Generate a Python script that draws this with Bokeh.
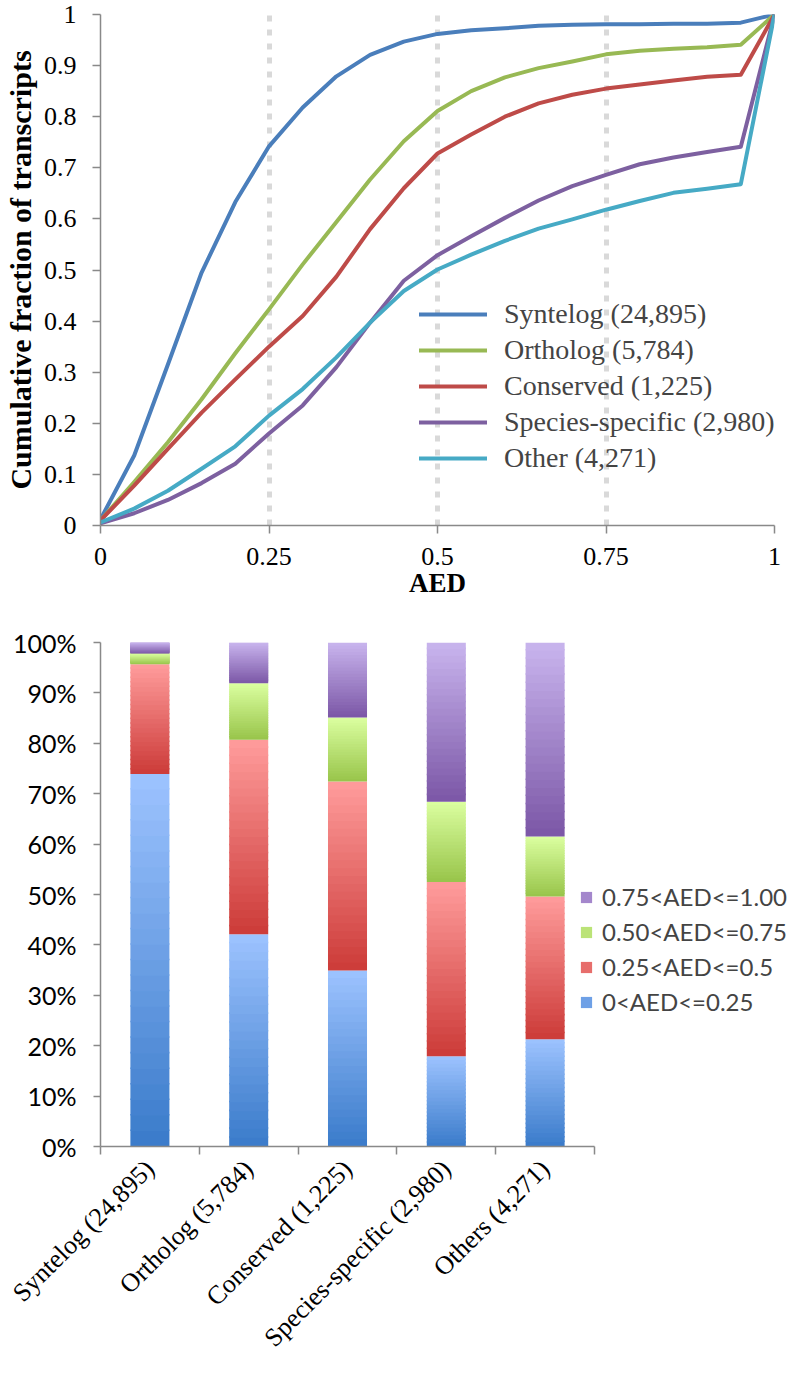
import math
from bokeh.plotting import figure
from bokeh.models import (FixedTicker, CustomJSTickFormatter, PrintfTickFormatter,
                          Legend, LegendItem, ColumnDataSource)
from bokeh.embed import file_html
from bokeh.resources import INLINE

# ---------------- data: cumulative curves ----------------
aed = [0, 0.05, 0.1, 0.15, 0.2, 0.25, 0.3, 0.35, 0.4, 0.45, 0.5,
       0.55, 0.6, 0.65, 0.7, 0.75, 0.8, 0.85, 0.9, 0.95, 1.0]
syntelog = [0.012, 0.137, 0.315, 0.495, 0.633, 0.742, 0.818, 0.879, 0.921, 0.947, 0.962,
            0.969, 0.973, 0.978, 0.980, 0.981, 0.981, 0.982, 0.982, 0.984, 1.0]
ortholog = [0.010, 0.085, 0.163, 0.247, 0.337, 0.423, 0.511, 0.594, 0.677, 0.752, 0.811,
            0.850, 0.877, 0.895, 0.908, 0.922, 0.929, 0.933, 0.936, 0.941, 1.0]
conserved = [0.010, 0.078, 0.150, 0.221, 0.286, 0.350, 0.410, 0.487, 0.580, 0.660, 0.728,
             0.765, 0.800, 0.826, 0.843, 0.855, 0.863, 0.871, 0.878, 0.882, 1.0]
species_specific = [0.004, 0.024, 0.050, 0.083, 0.121, 0.180, 0.235, 0.310, 0.397, 0.479, 0.529,
                    0.566, 0.602, 0.636, 0.664, 0.686, 0.707, 0.720, 0.731, 0.741, 1.0]
other = [0.006, 0.033, 0.068, 0.111, 0.155, 0.215, 0.267, 0.329, 0.397, 0.459, 0.501,
         0.530, 0.557, 0.581, 0.599, 0.618, 0.635, 0.651, 0.659, 0.668, 1.0]
series_names = ["Syntelog (24,895)", "Ortholog (5,784)", "Conserved (1,225)",
                "Species-specific (2,980)", "Other (4,271)"]
series_values = [syntelog, ortholog, conserved, species_specific, other]
series_colors = ["#4a7ebb", "#98b954", "#be4b48", "#7d60a0", "#46aac5"]
x_ticks = [0, 0.25, 0.5, 0.75, 1.0]
y_ticks = [0, 0.1, 0.2, 0.3, 0.4, 0.5, 0.6, 0.7, 0.8, 0.9, 1.0]

# ---------------- data: stacked percentages ----------------
categories = ["Syntelog (24,895)", "Ortholog (5,784)", "Conserved (1,225)",
              "Species-specific (2,980)", "Others (4,271)"]
bin_labels = ["0<AED<=0.25", "0.25<AED<=0.5", "0.50<AED<=0.75", "0.75<AED<=1.00"]
pct_000_025 = [73.9, 42.1, 34.9, 17.9, 21.3]
pct_025_050 = [21.8, 38.6, 37.5, 34.6, 28.3]
pct_050_075 = [2.1, 11.2, 12.7, 15.9, 11.9]
pct_075_100 = [2.2, 8.1, 14.9, 31.6, 38.5]
bin_values = [pct_000_025, pct_025_050, pct_050_075, pct_075_100]
pct_ticks = [0, 10, 20, 30, 40, 50, 60, 70, 80, 90, 100]
# gradient (bottom dark, top light) for each bin
bin_gradients = [("#3a7bca", "#9dc3ff"), ("#cc3b38", "#ff9c9c"),
                 ("#98c44a", "#dbffa0"), ("#7b56a6", "#c9b5ee")]

AXIS_COLOR = "#898989"
SERIF = "Liberation Serif"
SANS = "Lato"

# ================= top chart =================
p1 = figure(width=793, height=608, x_range=(0, 1), y_range=(0, 1),
            output_backend="svg", toolbar_location=None,
            min_border_left=97, min_border_right=19, min_border_top=14, min_border_bottom=83)
p1.outline_line_color = None
p1.background_fill_color = "white"
p1.ygrid.grid_line_color = None
p1.xgrid.ticker = FixedTicker(ticks=x_ticks[1:])
p1.xgrid.grid_line_color = "#d9d9d9"
p1.xgrid.grid_line_width = 5
p1.xgrid.grid_line_dash = "6 8"

fmt = CustomJSTickFormatter(code="return String(Math.round(tick*100)/100);")
p1.xaxis.ticker = FixedTicker(ticks=x_ticks)
p1.yaxis.ticker = FixedTicker(ticks=y_ticks)
p1.xaxis.formatter = fmt
p1.yaxis.formatter = fmt
p1.xaxis.axis_label = "AED"
p1.yaxis.axis_label = "Cumulative fraction of transcripts"
for ax in (p1.xaxis[0], p1.yaxis[0]):
    ax.axis_line_color = AXIS_COLOR
    ax.axis_line_width = 1.5
    ax.major_tick_line_color = AXIS_COLOR
    ax.major_tick_line_width = 1.5
    ax.major_tick_out = 8
    ax.major_tick_in = 0
    ax.minor_tick_line_color = None
    ax.major_label_text_font = SERIF
    ax.major_label_text_font_size = "26px"
    ax.major_label_text_color = "black"
    ax.axis_label_text_font = SERIF
    ax.axis_label_text_font_style = "bold"
    ax.axis_label_text_color = "black"
p1.xaxis.axis_label_text_font_size = "27px"
p1.yaxis.axis_label_text_font_size = "30px"
p1.xaxis.major_label_standoff = 14
p1.xaxis.axis_label_standoff = 0
p1.yaxis.major_label_standoff = 16
p1.yaxis.axis_label_standoff = 4

items = []
for name, vals, col in zip(series_names, series_values, series_colors):
    r = p1.line(aed, vals, line_width=4, line_color=col, line_join="round", line_cap="round")
    items.append(LegendItem(label=name, renderers=[r]))
leg1 = Legend(items=items, location=(319, 49), label_text_font=SERIF,
              label_text_font_size="28px", glyph_width=68, glyph_height=20,
              label_height=36, spacing=0, padding=0, margin=0, label_standoff=17,
              border_line_alpha=0, background_fill_alpha=0)
p1.add_layout(leg1)

# ================= bottom chart =================
# frame spans the full width so the legend (inside the frame) is not clipped;
# the axis itself is bounded to the five categories.
p2 = figure(width=793, height=765, x_range=(0, 7.014), y_range=(0, 100),
            output_backend="svg", toolbar_location=None,
            min_border_left=100, min_border_right=0, min_border_top=34, min_border_bottom=227)
p2.outline_line_color = None
p2.xgrid.grid_line_color = None
p2.ygrid.grid_line_color = None


def mix(c1, c2, t):
    a = [int(c1[i:i + 2], 16) for i in (1, 3, 5)]
    b = [int(c2[i:i + 2], 16) for i in (1, 3, 5)]
    return "#%02x%02x%02x" % tuple(round(a[k] + (b[k] - a[k]) * t) for k in range(3))


NSLICE = 24
xs, bots, tops, cols = [], [], [], []
legend_index = {}
for ci in range(len(categories)):
    base = 0.0
    for bi, vals in enumerate(bin_values):
        v = vals[ci]
        dark, light = bin_gradients[bi]
        for k in range(NSLICE):
            if ci == 0 and k == NSLICE // 2:
                legend_index[bi] = len(xs)
            xs.append(ci + 0.5)
            bots.append(base + v * k / NSLICE)
            tops.append(base + v * (k + 1) / NSLICE + (0.3 if k < NSLICE - 1 else 0))
            cols.append(mix(dark, light, (k + 0.5) / NSLICE))
        base += v
src = ColumnDataSource(dict(x=xs, bottom=bots, top=tops, color=cols))
rb = p2.vbar(x="x", bottom="bottom", top="top", width=0.395, fill_color="color",
             line_color=None, source=src)

p2.yaxis.ticker = FixedTicker(ticks=pct_ticks)
p2.yaxis.formatter = PrintfTickFormatter(format="%d%%")
p2.xaxis.ticker = FixedTicker(ticks=[0.5, 1.5, 2.5, 3.5, 4.5], minor_ticks=[0, 1, 2, 3, 4, 5])
p2.xaxis.formatter = CustomJSTickFormatter(args=dict(labels=categories),
                                           code="return labels[Math.floor(tick)];")
p2.xaxis.bounds = (0, 5)
p2.xaxis.major_label_orientation = math.pi / 4
for ax in (p2.xaxis[0], p2.yaxis[0]):
    ax.axis_line_color = AXIS_COLOR
    ax.axis_line_width = 1.5
    ax.major_tick_line_color = AXIS_COLOR
    ax.major_tick_line_width = 1.5
    ax.major_label_text_color = "black"
p2.yaxis.major_tick_out = 7
p2.yaxis.major_tick_in = 0
p2.yaxis.minor_tick_line_color = None
p2.yaxis.major_label_text_font = SANS
p2.yaxis.major_label_text_font_size = "25px"
p2.yaxis.major_label_standoff = 17
p2.xaxis.major_tick_out = 0
p2.xaxis.major_tick_in = 0
p2.xaxis.minor_tick_out = 8
p2.xaxis.minor_tick_in = 0
p2.xaxis.minor_tick_line_color = AXIS_COLOR
p2.xaxis.minor_tick_line_width = 1.5
p2.xaxis.major_label_text_font = SERIF
p2.xaxis.major_label_text_font_size = "26px"
p2.xaxis.major_label_standoff = 10

items2 = [LegendItem(label=bin_labels[bi], renderers=[rb], index=legend_index[bi])
          for bi in (3, 2, 1, 0)]
leg2 = Legend(items=items2, location=(479, 127), label_text_font=SANS,
              label_text_font_size="24px", glyph_width=14, glyph_height=14,
              label_height=35, spacing=0, padding=0, margin=0, label_standoff=9,
              border_line_alpha=0, background_fill_alpha=0)
p2.add_layout(leg2)

open("out.html", "w").write(file_html([p1, p2], INLINE))
